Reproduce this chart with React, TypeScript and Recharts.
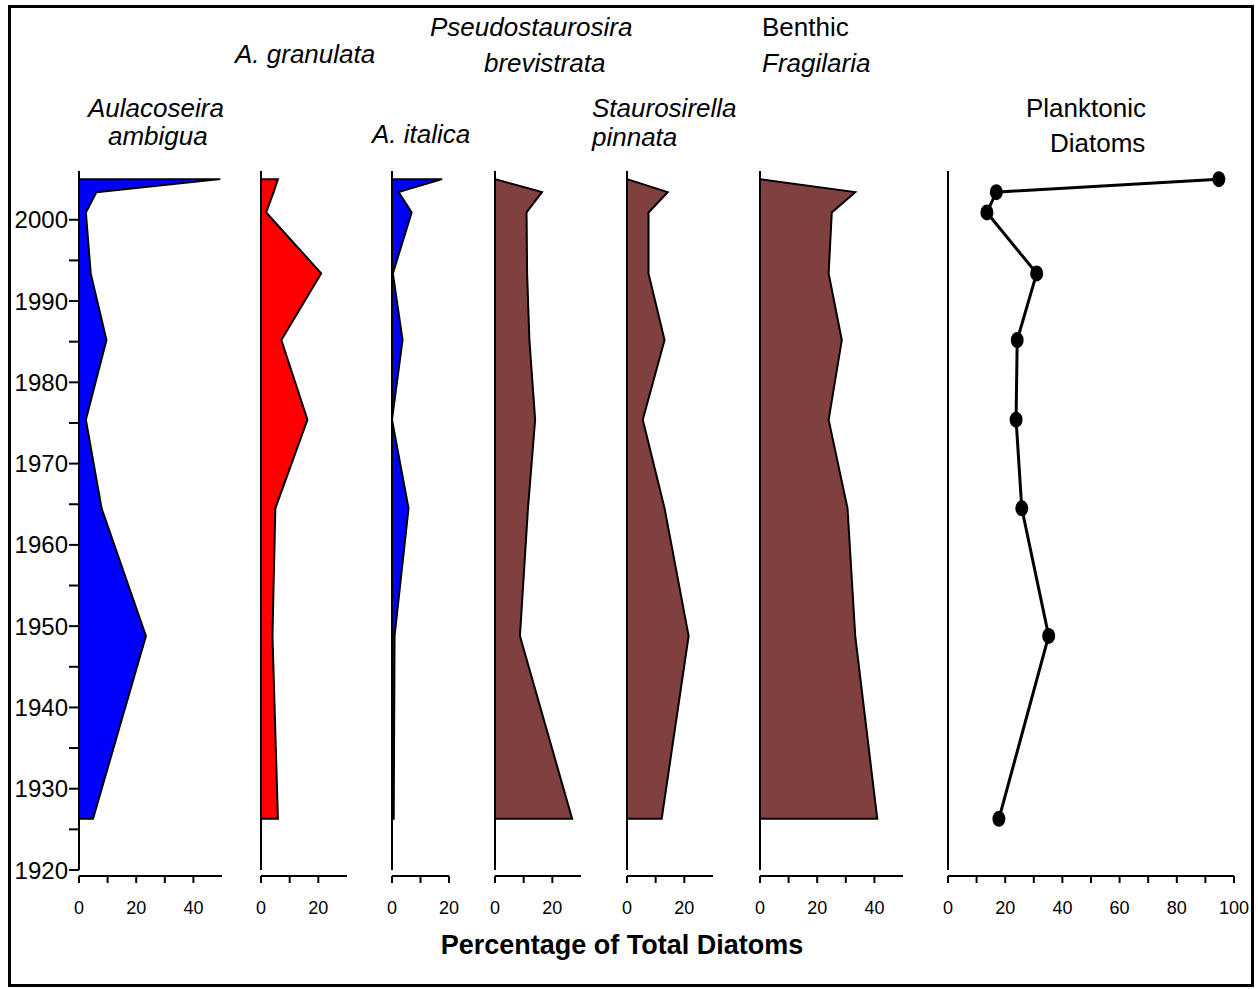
import React from 'react';
import { ComposedChart, Area, Line, XAxis, YAxis, ReferenceLine } from 'recharts';

// sample ages (years AD), top of core first
const years = [2005, 2003.4, 2000.9, 1993.4, 1985.2, 1975.4, 1964.5, 1948.8, 1926.3];

// percentage of total diatoms
const ambigua = [49.4, 6.1, 2.4, 4.1, 9.6, 2.4, 7.9, 23.4, 4.9];
const granulata = [5.9, 4.4, 1.8, 21.0, 7.1, 16.2, 5.0, 4.0, 5.9];
const italica = [17.6, 2.3, 6.9, 0.3, 3.7, 0, 5.8, 0.9, 0.6];
const brevistrata = [0, 16.4, 11.0, 11.2, 12.0, 14.0, 11.5, 8.7, 26.9];
const pinnata = [0, 14.2, 7.5, 7.5, 13.1, 5.5, 13.1, 21.5, 12.1];
const benthicFragilaria = [0, 33.3, 25.1, 24.0, 28.6, 24.0, 30.6, 33.3, 41.0];
const planktonic = [94.7, 16.9, 13.6, 31.0, 24.2, 23.8, 25.8, 35.2, 17.8];

const yearTicks = [1920, 1925, 1930, 1935, 1940, 1945, 1950, 1955, 1960, 1965, 1970, 1975, 1980, 1985, 1990, 1995, 2000];
const ticks20 = [0, 10, 20];
const ticks30 = [0, 10, 20];
const ticks50 = [0, 10, 20, 30, 40];
const ticks100 = [0, 10, 20, 30, 40, 50, 60, 70, 80, 90, 100];

const FONT = '"Liberation Sans", Arial, sans-serif';
const PX_PER_PCT = 2.86;
const CHART_TOP = 150;
const PLOT_TOP = 21;
const PLOT_H = 705;
const X_AXIS_H = 50;

// close the polygon back onto the zero line at top and bottom samples
const toArea = (vals: number[]) => [
  { year: years[0], v: 0 },
  ...years.map((year, i) => ({ year, v: vals[i] })),
  { year: years[years.length - 1], v: 0 },
];

const toPoints = (vals: number[]) => years.map((year, i) => ({ year, v: vals[i] }));

const BigDot = (props: any) => {
  const { cx, cy, index } = props;
  if (cx == null || cy == null) return null;
  return <ellipse key={index} cx={cx} cy={cy} rx={6.5} ry={8} fill="#000" />;
};

interface PanelProps {
  axisX: number;
  max: number;
  ticks: number[];
  values: number[];
  fill?: string;
  showYears?: boolean;
  asLine?: boolean;
}

function Panel({ axisX, max, ticks, values, fill, showYears, asLine }: PanelProps) {
  const plotW = Math.round(max * PX_PER_PCT);
  const leftPad = showYears ? 0 : 10;
  const yWidth = showYears ? axisX : 0;
  const divLeft = showYears ? 0 : axisX - leftPad;
  const width = leftPad + yWidth + plotW + 25;
  const height = PLOT_TOP + PLOT_H + X_AXIS_H;
  const data = asLine ? toPoints(values) : toArea(values);

  return (
    <div style={{ position: 'absolute', left: divLeft, top: CHART_TOP }}>
      <ComposedChart
        layout="vertical"
        width={width}
        height={height}
        data={data}
        margin={{ top: PLOT_TOP, right: 25, bottom: 0, left: leftPad }}
      >
        <XAxis
          type="number"
          domain={[0, max]}
          ticks={ticks}
          interval={0}
          height={X_AXIS_H}
          tickFormatter={(v: number) => (v % 20 === 0 ? String(v) : '')}
          tick={{ fill: '#000', fontSize: 18, fontFamily: FONT }}
          axisLine={{ stroke: '#000', strokeWidth: 2 }}
          tickLine={{ stroke: '#000', strokeWidth: 2 }}
          tickSize={7}
          tickMargin={18}
        />
        <YAxis
          type="number"
          dataKey="year"
          domain={[1920, 2006]}
          reversed
          padding={{ top: 0, bottom: 6 }}
          hide={!showYears}
          width={yWidth}
          ticks={yearTicks}
          interval={0}
          tickFormatter={(v: number) => (v % 10 === 0 ? String(v) : '')}
          tick={{ fill: '#000', fontSize: 24, fontFamily: FONT }}
          axisLine={false}
          tickLine={{ stroke: '#000', strokeWidth: 2 }}
          tickSize={10}
          tickMargin={1}
        />
        {asLine ? (
          <Line
            type="linear"
            dataKey="v"
            stroke="#000"
            strokeWidth={3}
            dot={BigDot}
            activeDot={false}
            isAnimationActive={false}
          />
        ) : (
          <Area
            type="linear"
            dataKey="v"
            fill={fill}
            fillOpacity={1}
            stroke="#000"
            strokeWidth={2}
            dot={false}
            activeDot={false}
            isAnimationActive={false}
          />
        )}
        <ReferenceLine
          segment={[{ x: 0, y: 1920 }, { x: 0, y: 2006 }]}
          stroke="#000"
          strokeWidth={2}
        />
      </ComposedChart>
    </div>
  );
}

const titleStyle: React.CSSProperties = {
  position: 'absolute',
  fontFamily: FONT,
  fontSize: 26,
  lineHeight: '30px',
  color: '#000',
  whiteSpace: 'nowrap',
};

const Title = ({ x, y, text, italic = true }: { x: number; y: number; text: string; italic?: boolean }) => (
  <div style={{ ...titleStyle, left: x, top: y, fontStyle: italic ? 'italic' : 'normal' }}>{text}</div>
);

export default function App() {
  return (
    <div style={{ position: 'absolute', left: 0, top: 0, width: 1258, height: 989, background: '#fff', overflow: 'hidden' }}>
      <div
        style={{
          position: 'absolute',
          left: 8,
          top: 5,
          width: 1246,
          height: 982,
          border: '3px solid #000',
          boxSizing: 'border-box',
        }}
      />

      <Panel axisX={79} max={50} ticks={ticks50} values={ambigua} fill="#0000ff" showYears />
      <Panel axisX={261} max={30} ticks={ticks30} values={granulata} fill="#ff0000" />
      <Panel axisX={392} max={20} ticks={ticks20} values={italica} fill="#0000ff" />
      <Panel axisX={495} max={30} ticks={ticks30} values={brevistrata} fill="#804040" />
      <Panel axisX={627} max={30} ticks={ticks30} values={pinnata} fill="#804040" />
      <Panel axisX={760} max={50} ticks={ticks50} values={benthicFragilaria} fill="#804040" />
      <Panel axisX={948} max={100} ticks={ticks100} values={planktonic} asLine />

      <Title x={88} y={93} text="Aulacoseira" />
      <Title x={108} y={121} text="ambigua" />
      <Title x={235} y={39} text="A. granulata" />
      <Title x={372} y={119} text="A. italica" />
      <Title x={430} y={12} text="Pseudostaurosira" />
      <Title x={484} y={48} text="brevistrata" />
      <Title x={592} y={93} text="Staurosirella" />
      <Title x={592} y={122} text="pinnata" />
      <Title x={762} y={12} text="Benthic" italic={false} />
      <Title x={762} y={48} text="Fragilaria" />
      <Title x={1026} y={93} text="Planktonic" italic={false} />
      <Title x={1050} y={128} text="Diatoms" italic={false} />

      <div
        style={{
          position: 'absolute',
          left: 0,
          width: 1244,
          top: 930,
          textAlign: 'center',
          fontFamily: FONT,
          fontSize: 27,
          fontWeight: 'bold',
          lineHeight: '30px',
          color: '#000',
        }}
      >
        Percentage of Total Diatoms
      </div>
    </div>
  );
}
